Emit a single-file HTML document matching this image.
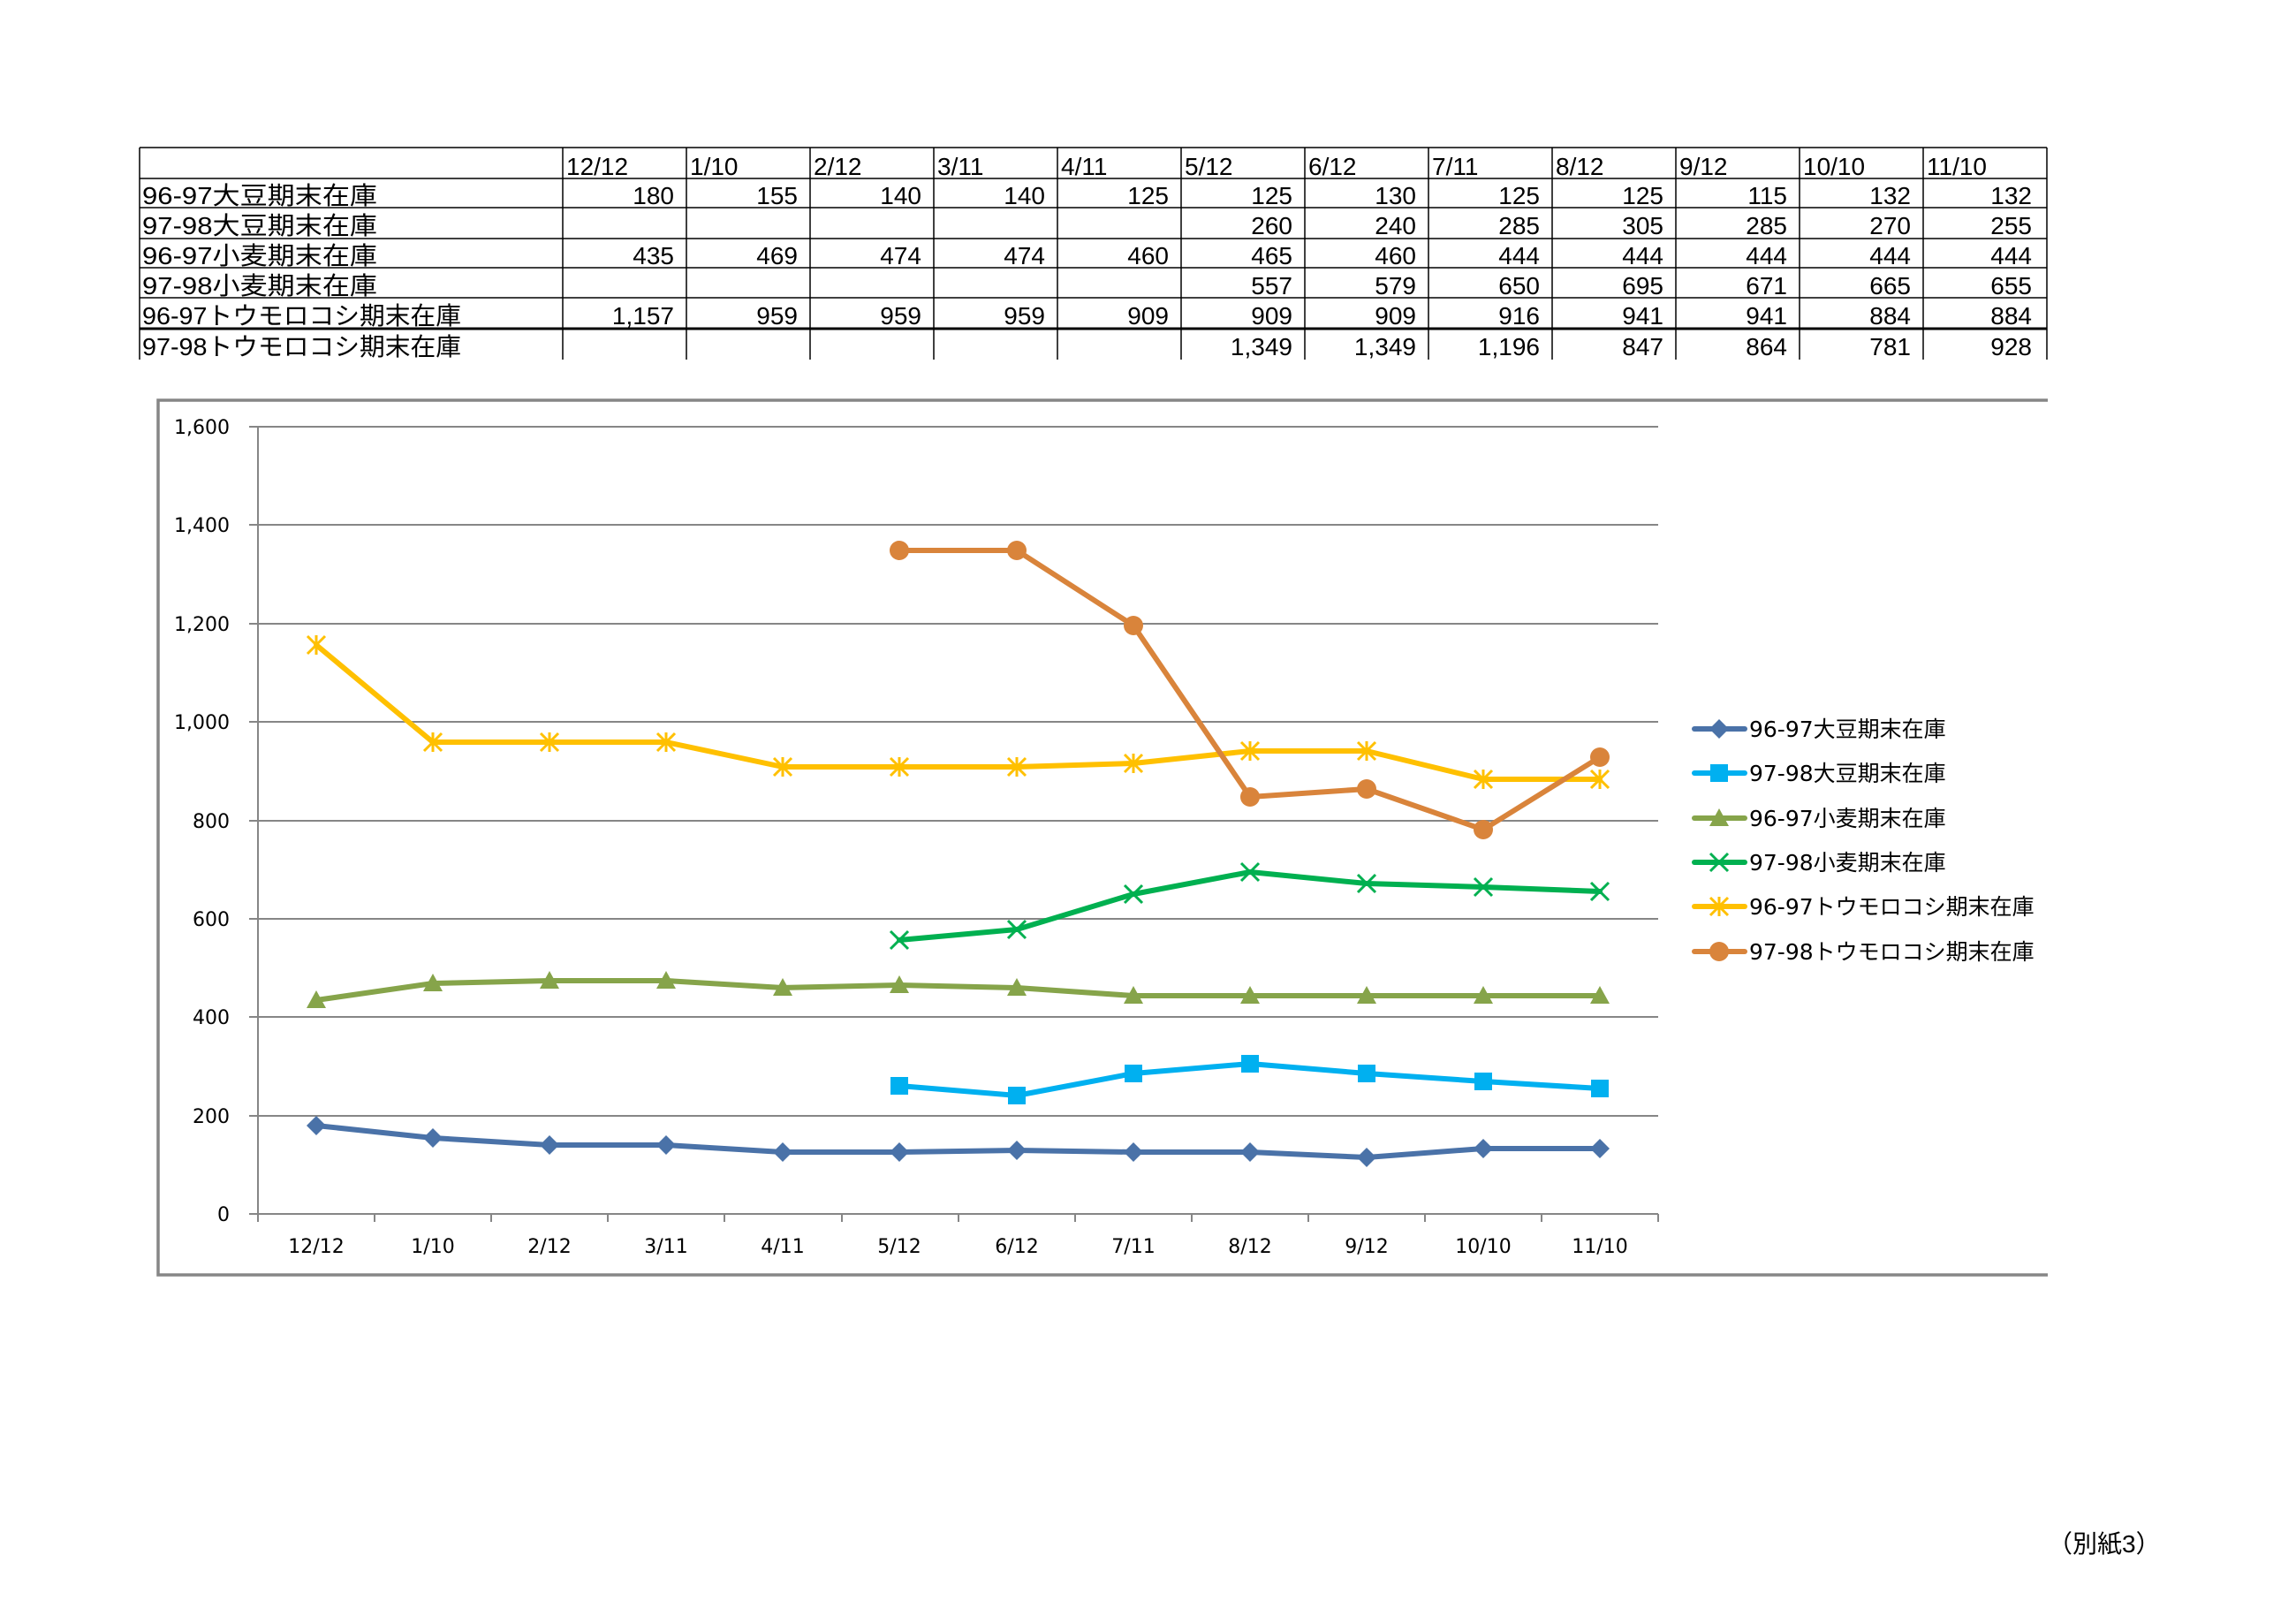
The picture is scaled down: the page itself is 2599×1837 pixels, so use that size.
<!DOCTYPE html>
<html><head><meta charset="utf-8"><style>
html,body{margin:0;padding:0;background:#fff;}
svg{display:block;}
.t{font-family:"Liberation Sans","Noto Sans CJK JP",sans-serif;font-size:28px;fill:#000;}
.ax{font-family:"DejaVu Sans","Liberation Sans",sans-serif;font-size:22px;fill:#000;}
.lg{font-family:"DejaVu Sans","Noto Sans CJK JP",sans-serif;font-size:25px;fill:#000;}
</style></head><body>
<svg width="2599" height="1837" viewBox="0 0 2599 1837" xmlns="http://www.w3.org/2000/svg">
<defs>
<symbol id="dia" viewBox="-12 -12 24 24" overflow="visible"><polygon points="0,-11 11,0 0,11 -11,0" fill="#4a72a8"/></symbol>
<symbol id="sq" viewBox="-12 -12 24 24" overflow="visible"><rect x="-10" y="-10" width="20" height="20" fill="#00b0f0"/></symbol>
<symbol id="tri" viewBox="-12 -12 24 24" overflow="visible"><polygon points="0,-11 11,9 -11,9" fill="#86a44a"/></symbol>
<symbol id="xx" viewBox="-12 -12 24 24" overflow="visible"><path d="M-10,-10L10,10M10,-10L-10,10" stroke="#00b050" stroke-width="3"/></symbol>
<symbol id="st" viewBox="-12 -12 24 24" overflow="visible"><path d="M-10,-10L10,10M10,-10L-10,10M0,-11L0,11" stroke="#ffc000" stroke-width="3"/></symbol>
<symbol id="ci" viewBox="-12 -12 24 24" overflow="visible"><circle r="11" fill="#d9843b"/></symbol>
</defs>

<!-- TABLE -->
<g stroke="#000" stroke-width="1.5" fill="none">
<line x1="158" y1="167" x2="2317" y2="167"/>
<line x1="158" y1="202" x2="2317" y2="202"/>
<line x1="158" y1="235" x2="2317" y2="235"/>
<line x1="158" y1="270" x2="2317" y2="270"/>
<line x1="158" y1="303" x2="2317" y2="303"/>
<line x1="158" y1="337" x2="2317" y2="337"/>
<line x1="158" y1="372" x2="2317" y2="372" stroke-width="3"/>
<line x1="158" y1="167" x2="158" y2="407"/>
<line x1="637" y1="167" x2="637" y2="407"/>
<line x1="777" y1="167" x2="777" y2="407"/>
<line x1="917" y1="167" x2="917" y2="407"/>
<line x1="1057" y1="167" x2="1057" y2="407"/>
<line x1="1197" y1="167" x2="1197" y2="407"/>
<line x1="1337" y1="167" x2="1337" y2="407"/>
<line x1="1477" y1="167" x2="1477" y2="407"/>
<line x1="1617" y1="167" x2="1617" y2="407"/>
<line x1="1757" y1="167" x2="1757" y2="407"/>
<line x1="1897" y1="167" x2="1897" y2="407"/>
<line x1="2037" y1="167" x2="2037" y2="407"/>
<line x1="2177" y1="167" x2="2177" y2="407"/>
<line x1="2317" y1="167" x2="2317" y2="407"/>
</g>
<g class="t">
<text x="641" y="198">12/12</text><text x="781" y="198">1/10</text><text x="921" y="198">2/12</text><text x="1061" y="198">3/11</text><text x="1201" y="198">4/11</text><text x="1341" y="198">5/12</text><text x="1481" y="198">6/12</text><text x="1621" y="198">7/11</text><text x="1761" y="198">8/12</text><text x="1901" y="198">9/12</text><text x="2041" y="198">10/10</text><text x="2181" y="198">11/10</text>
<text x="161" y="231" textLength="266" lengthAdjust="spacingAndGlyphs">96-97大豆期末在庫</text>
<text x="161" y="265" textLength="266" lengthAdjust="spacingAndGlyphs">97-98大豆期末在庫</text>
<text x="161" y="299" textLength="266" lengthAdjust="spacingAndGlyphs">96-97小麦期末在庫</text>
<text x="161" y="333" textLength="266" lengthAdjust="spacingAndGlyphs">97-98小麦期末在庫</text>
<text x="161" y="367" textLength="361" lengthAdjust="spacingAndGlyphs">96-97トウモロコシ期末在庫</text>
<text x="161" y="402" textLength="361" lengthAdjust="spacingAndGlyphs">97-98トウモロコシ期末在庫</text>
</g>
<g class="t" text-anchor="end">
<text x="763" y="231">180</text><text x="903" y="231">155</text><text x="1043" y="231">140</text><text x="1183" y="231">140</text><text x="1323" y="231">125</text><text x="1463" y="231">125</text><text x="1603" y="231">130</text><text x="1743" y="231">125</text><text x="1883" y="231">125</text><text x="2023" y="231">115</text><text x="2163" y="231">132</text><text x="2300" y="231">132</text>
<text x="1463" y="265">260</text><text x="1603" y="265">240</text><text x="1743" y="265">285</text><text x="1883" y="265">305</text><text x="2023" y="265">285</text><text x="2163" y="265">270</text><text x="2300" y="265">255</text>
<text x="763" y="299">435</text><text x="903" y="299">469</text><text x="1043" y="299">474</text><text x="1183" y="299">474</text><text x="1323" y="299">460</text><text x="1463" y="299">465</text><text x="1603" y="299">460</text><text x="1743" y="299">444</text><text x="1883" y="299">444</text><text x="2023" y="299">444</text><text x="2163" y="299">444</text><text x="2300" y="299">444</text>
<text x="1463" y="333">557</text><text x="1603" y="333">579</text><text x="1743" y="333">650</text><text x="1883" y="333">695</text><text x="2023" y="333">671</text><text x="2163" y="333">665</text><text x="2300" y="333">655</text>
<text x="763" y="367">1,157</text><text x="903" y="367">959</text><text x="1043" y="367">959</text><text x="1183" y="367">959</text><text x="1323" y="367">909</text><text x="1463" y="367">909</text><text x="1603" y="367">909</text><text x="1743" y="367">916</text><text x="1883" y="367">941</text><text x="2023" y="367">941</text><text x="2163" y="367">884</text><text x="2300" y="367">884</text>
<text x="1463" y="402">1,349</text><text x="1603" y="402">1,349</text><text x="1743" y="402">1,196</text><text x="1883" y="402">847</text><text x="2023" y="402">864</text><text x="2163" y="402">781</text><text x="2300" y="402">928</text>
</g>

<!-- CHART FRAME -->
<polyline points="2318,453 179,453 179,1443 2318,1443" fill="none" stroke="#868686" stroke-width="3.5"/>

<!-- GRID -->
<g stroke="#868686" stroke-width="2">
<line x1="282" y1="483" x2="1877" y2="483"/>
<line x1="282" y1="594" x2="1877" y2="594"/>
<line x1="282" y1="706" x2="1877" y2="706"/>
<line x1="282" y1="817" x2="1877" y2="817"/>
<line x1="282" y1="929" x2="1877" y2="929"/>
<line x1="282" y1="1040" x2="1877" y2="1040"/>
<line x1="282" y1="1151" x2="1877" y2="1151"/>
<line x1="282" y1="1263" x2="1877" y2="1263"/>
<line x1="282" y1="1374" x2="1877" y2="1374"/>
<line x1="292" y1="483" x2="292" y2="1383"/>
<line x1="424" y1="1374" x2="424" y2="1383"/><line x1="556" y1="1374" x2="556" y2="1383"/><line x1="688" y1="1374" x2="688" y2="1383"/><line x1="820" y1="1374" x2="820" y2="1383"/><line x1="953" y1="1374" x2="953" y2="1383"/><line x1="1085" y1="1374" x2="1085" y2="1383"/><line x1="1217" y1="1374" x2="1217" y2="1383"/><line x1="1349" y1="1374" x2="1349" y2="1383"/><line x1="1481" y1="1374" x2="1481" y2="1383"/><line x1="1613" y1="1374" x2="1613" y2="1383"/><line x1="1745" y1="1374" x2="1745" y2="1383"/><line x1="1877" y1="1374" x2="1877" y2="1383"/>
</g>
<g class="ax" text-anchor="end">
<text x="260" y="491">1,600</text><text x="260" y="602">1,400</text><text x="260" y="714">1,200</text><text x="260" y="825">1,000</text><text x="260" y="937">800</text><text x="260" y="1048">600</text><text x="260" y="1159">400</text><text x="260" y="1271">200</text><text x="260" y="1382">0</text>
</g>
<g class="ax" text-anchor="middle">
<text x="358" y="1418">12/12</text><text x="490" y="1418">1/10</text><text x="622" y="1418">2/12</text><text x="754" y="1418">3/11</text><text x="886" y="1418">4/11</text><text x="1018" y="1418">5/12</text><text x="1151" y="1418">6/12</text><text x="1283" y="1418">7/11</text><text x="1415" y="1418">8/12</text><text x="1547" y="1418">9/12</text><text x="1679" y="1418">10/10</text><text x="1811" y="1418">11/10</text>
</g>

<!-- SERIES -->
<g fill="none" stroke-width="6" stroke-linejoin="round" stroke-linecap="round">
<polyline stroke="#4a72a8" points="358,1274 490,1288 622,1296 754,1296 886,1304 1018,1304 1151,1302 1283,1304 1415,1304 1547,1310 1679,1300 1811,1300"/>
<polyline stroke="#00b0f0" points="1018,1229 1151,1240 1283,1215 1415,1204 1547,1215 1679,1224 1811,1232"/>
<polyline stroke="#86a44a" points="358,1132 490,1113 622,1110 754,1110 886,1118 1018,1115 1151,1118 1283,1127 1415,1127 1547,1127 1679,1127 1811,1127"/>
<polyline stroke="#00b050" points="1018,1064 1151,1052 1283,1012 1415,987 1547,1000 1679,1004 1811,1009"/>
<polyline stroke="#ffc000" points="358,730 490,840 622,840 754,840 886,868 1018,868 1151,868 1283,864 1415,850 1547,850 1679,882 1811,882"/>
<polyline stroke="#d9843b" points="1018,623 1151,623 1283,708 1415,902 1547,893 1679,939 1811,857"/>
</g>
<g>
<use href="#dia" x="346" y="1262" width="24" height="24"/><use href="#dia" x="478" y="1276" width="24" height="24"/><use href="#dia" x="610" y="1284" width="24" height="24"/><use href="#dia" x="742" y="1284" width="24" height="24"/><use href="#dia" x="874" y="1292" width="24" height="24"/><use href="#dia" x="1006" y="1292" width="24" height="24"/><use href="#dia" x="1139" y="1290" width="24" height="24"/><use href="#dia" x="1271" y="1292" width="24" height="24"/><use href="#dia" x="1403" y="1292" width="24" height="24"/><use href="#dia" x="1535" y="1298" width="24" height="24"/><use href="#dia" x="1667" y="1288" width="24" height="24"/><use href="#dia" x="1799" y="1288" width="24" height="24"/>
<use href="#sq" x="1006" y="1217" width="24" height="24"/><use href="#sq" x="1139" y="1228" width="24" height="24"/><use href="#sq" x="1271" y="1203" width="24" height="24"/><use href="#sq" x="1403" y="1192" width="24" height="24"/><use href="#sq" x="1535" y="1203" width="24" height="24"/><use href="#sq" x="1667" y="1212" width="24" height="24"/><use href="#sq" x="1799" y="1220" width="24" height="24"/>
<use href="#tri" x="346" y="1120" width="24" height="24"/><use href="#tri" x="478" y="1101" width="24" height="24"/><use href="#tri" x="610" y="1098" width="24" height="24"/><use href="#tri" x="742" y="1098" width="24" height="24"/><use href="#tri" x="874" y="1106" width="24" height="24"/><use href="#tri" x="1006" y="1103" width="24" height="24"/><use href="#tri" x="1139" y="1106" width="24" height="24"/><use href="#tri" x="1271" y="1115" width="24" height="24"/><use href="#tri" x="1403" y="1115" width="24" height="24"/><use href="#tri" x="1535" y="1115" width="24" height="24"/><use href="#tri" x="1667" y="1115" width="24" height="24"/><use href="#tri" x="1799" y="1115" width="24" height="24"/>
<use href="#xx" x="1006" y="1052" width="24" height="24"/><use href="#xx" x="1139" y="1040" width="24" height="24"/><use href="#xx" x="1271" y="1000" width="24" height="24"/><use href="#xx" x="1403" y="975" width="24" height="24"/><use href="#xx" x="1535" y="988" width="24" height="24"/><use href="#xx" x="1667" y="992" width="24" height="24"/><use href="#xx" x="1799" y="997" width="24" height="24"/>
<use href="#st" x="346" y="718" width="24" height="24"/><use href="#st" x="478" y="828" width="24" height="24"/><use href="#st" x="610" y="828" width="24" height="24"/><use href="#st" x="742" y="828" width="24" height="24"/><use href="#st" x="874" y="856" width="24" height="24"/><use href="#st" x="1006" y="856" width="24" height="24"/><use href="#st" x="1139" y="856" width="24" height="24"/><use href="#st" x="1271" y="852" width="24" height="24"/><use href="#st" x="1403" y="838" width="24" height="24"/><use href="#st" x="1535" y="838" width="24" height="24"/><use href="#st" x="1667" y="870" width="24" height="24"/><use href="#st" x="1799" y="870" width="24" height="24"/>
<use href="#ci" x="1006" y="611" width="24" height="24"/><use href="#ci" x="1139" y="611" width="24" height="24"/><use href="#ci" x="1271" y="696" width="24" height="24"/><use href="#ci" x="1403" y="890" width="24" height="24"/><use href="#ci" x="1535" y="881" width="24" height="24"/><use href="#ci" x="1667" y="927" width="24" height="24"/><use href="#ci" x="1799" y="845" width="24" height="24"/>
</g>

<!-- LEGEND -->
<g stroke-width="6" stroke-linecap="round">
<line x1="1918" y1="825" x2="1975" y2="825" stroke="#4a72a8"/>
<line x1="1918" y1="875" x2="1975" y2="875" stroke="#00b0f0"/>
<line x1="1918" y1="926" x2="1975" y2="926" stroke="#86a44a"/>
<line x1="1918" y1="976" x2="1975" y2="976" stroke="#00b050"/>
<line x1="1918" y1="1026" x2="1975" y2="1026" stroke="#ffc000"/>
<line x1="1918" y1="1077" x2="1975" y2="1077" stroke="#d9843b"/>
</g>
<use href="#dia" x="1934" y="813" width="24" height="24"/>
<use href="#sq" x="1934" y="863" width="24" height="24"/>
<use href="#tri" x="1934" y="914" width="24" height="24"/>
<use href="#xx" x="1934" y="964" width="24" height="24"/>
<use href="#st" x="1934" y="1014" width="24" height="24"/>
<use href="#ci" x="1934" y="1065" width="24" height="24"/>
<g class="lg">
<text x="1980" y="834">96-97大豆期末在庫</text>
<text x="1980" y="884">97-98大豆期末在庫</text>
<text x="1980" y="935">96-97小麦期末在庫</text>
<text x="1980" y="985">97-98小麦期末在庫</text>
<text x="1980" y="1035">96-97トウモロコシ期末在庫</text>
<text x="1980" y="1086">97-98トウモロコシ期末在庫</text>
</g>

<text x="2318" y="1757" style="font-family:'Liberation Sans','Noto Sans CJK JP',sans-serif;font-size:28px;">（別紙3）</text>
</svg>
</body></html>
